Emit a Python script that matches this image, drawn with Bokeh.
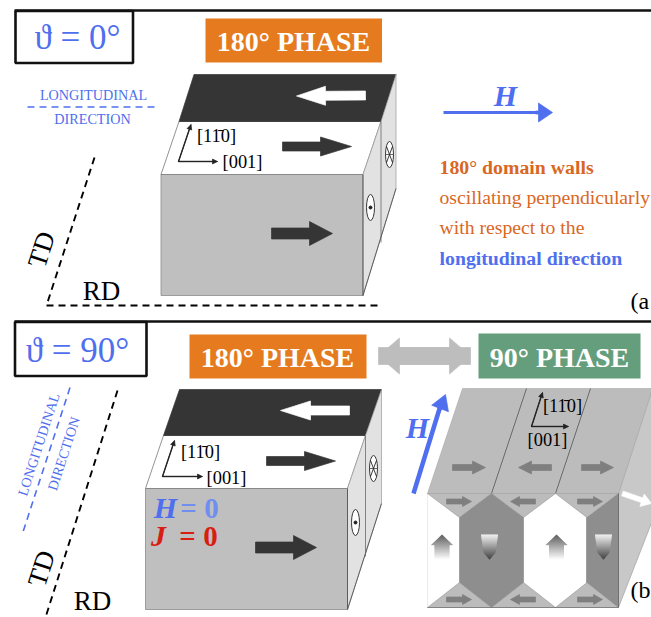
import math
from bokeh.plotting import figure
from bokeh.models import Range1d
from bokeh.core.properties import value
from bokeh.embed import file_html
from bokeh.resources import INLINE

BLUE = "#4f6fee"
ORANGE = "#e57a1e"
ORANGE_TXT = "#d9671f"
GREEN = "#659e7c"
DARK = "#353535"
FACE = "#bfbfbf"
SIDE = "#e2e2e2"
SERIF = "Liberation Serif"

TITLES = ["\u03d1 = 0\u00b0", "\u03d1 = 90\u00b0"]
PHASES = ["180\u00b0 PHASE", "180\u00b0 PHASE", "90\u00b0 PHASE"]
DIRECTIONS = ["[11\u03040]", "[001]"]
NOTE = ["180\u00b0 domain walls", "oscillating perpendicularly", "with respect to the", "longitudinal direction"]

p = figure(width=651, height=617, output_backend="svg", toolbar_location=None,
           x_range=Range1d(0, 651), y_range=Range1d(617, 0), min_border=0,
           outline_line_color=None, background_fill_color="white")
p.axis.visible = False
p.xaxis.visible = False
p.yaxis.visible = False
p.grid.visible = False


def poly(pts, fill, line=None, lw=0.7):
    p.patch([a for a, _ in pts], [b for _, b in pts], fill_color=fill,
            line_color=line if line else fill, line_width=lw)


def line(pts, color="black", lw=1.0, dash="solid"):
    p.line([a for a, _ in pts], [b for _, b in pts], line_color=color, line_width=lw, line_dash=dash)


def txt(x, y, s, size, color="black", align="center", bold=False, italic=False, angle=0.0):
    style = "bold italic" if bold and italic else "bold" if bold else "italic" if italic else "normal"
    p.text([x], [y], text=[s], text_font=value(SERIF), text_font_size=f"{size}px", text_color=color,
           text_align=align, text_baseline="middle", text_font_style=style, angle=math.radians(angle))


def arrow(tail, tip, body, head, head_len, fill):
    (x0, y0), (x1, y1) = tail, tip
    d = math.hypot(x1 - x0, y1 - y0)
    ux, uy = (x1 - x0) / d, (y1 - y0) / d
    nx, ny = -uy, ux
    bx, by = x1 - ux * head_len, y1 - uy * head_len
    poly([(x0 + nx * body, y0 + ny * body), (bx + nx * body, by + ny * body),
          (bx + nx * head, by + ny * head), (x1, y1), (bx - nx * head, by - ny * head),
          (bx - nx * body, by - ny * body), (x0 - nx * body, y0 - ny * body)], fill)


def thin_arrow(a, b):
    line([a, b], "#222222", 0.9)
    arrow(a, b, 0.3, 2.4, 5, "#222222")


def cube(ox, oy, w, h, dx1, dy1, dx2, dy2, side_bottom):
    poly([(ox, oy), (ox + w, oy), (ox + w, oy + h), (ox, oy + h)], FACE, "#8a8a8a", 0.8)
    poly([(ox, oy), (ox + dx1, oy - dy1), (ox + w + dx1, oy - dy1), (ox + w, oy)], "white", "#777777", 0.8)
    poly([(ox + dx1, oy - dy1), (ox + dx1 + dx2, oy - dy1 - dy2), (ox + w + dx1 + dx2, oy - dy1 - dy2),
          (ox + w + dx1, oy - dy1)], DARK)
    sx, sy = ox + w, oy
    poly([(sx, sy), (sx + dx1, sy - dy1), (sx + dx1 + dx2, sy - dy1 - dy2), (sx + dx1 + dx2, side_bottom),
          (sx, oy + h)], SIDE, "#999999", 0.7)
    line([(sx, sy), (sx, oy + h)], "#555555", 0.9)
    line([(sx + dx1, sy - dy1), (sx + dx1, oy + h - dy1)], "#777777", 0.9)
    line([(sx, oy + h), (sx + dx1 + dx2, side_bottom)], "#555555", 0.9)


def marks(dot_x, dot_y, cross_x, cross_y):
    for cx, cy in [(dot_x, dot_y), (cross_x, cross_y)]:
        p.ellipse([cx], [cy], width=8, height=26, fill_color="white", line_color="#222222", line_width=0.9)
    p.scatter([dot_x], [dot_y], size=3, color="#222222")
    line([(cross_x - 3, cross_y - 8), (cross_x + 3, cross_y + 8)], "#222222", 0.9)
    line([(cross_x + 3, cross_y - 8), (cross_x - 3, cross_y + 8)], "#222222", 0.9)
    line([(cross_x - 4, cross_y), (cross_x + 4, cross_y)], "#222222", 0.7)


def gradient_arrow(cx, top, bottom, up):
    n = int(bottom - top) * 2
    for i in range(n):
        y0 = top + (bottom - top) * i / n
        y1 = top + (bottom - top) * (i + 1) / n
        t = (i + 0.5) / n
        if up:
            hw = t * 11 / 0.42 if t < 0.42 else 7.5
            shade = int(70 + 185 * t)
        else:
            hw = 8.5 - 2.5 * t / 0.72 if t < 0.72 else 6 * (1 - t) / 0.28
            shade = int(255 - 200 * t)
        c = f"#{shade:02x}{shade:02x}{shade:02x}"
        p.quad(left=[cx - hw], right=[cx + hw], top=[y0], bottom=[y1 + 0.2], fill_color=c, line_color=None)


# ---------------- panel (a) ----------------
line([(14, 10), (651, 10)], "#111111", 2.6)
p.quad(left=[15], right=[132.5], top=[10.5], bottom=[62.5], fill_color="white", line_color="#111111", line_width=2.6)
txt(77, 37, TITLES[0], 35, BLUE)

p.quad(left=[205], right=[381.5], top=[18], bottom=[62], fill_color=ORANGE, line_color=None)
txt(293, 41, PHASES[0], 28, "white", bold=True)

txt(93, 94, "LONGITUDINAL", 14.2, BLUE)
line([(27, 106.5), (155, 106.5)], BLUE, 1.6, "7 5")
txt(92, 118, "DIRECTION", 14.2, BLUE)

cube(160.5, 174, 202, 121, 18, 53, 15, 47, 188)
arrow((365, 95), (296, 95.5), 4.5, 9.5, 29, "white")
arrow((282, 146), (351, 146), 4.5, 9.5, 31, DARK)
arrow((271, 233), (332, 233), 5.5, 12, 23, DARK)
thin_arrow((178, 161), (190.5, 124))
thin_arrow((178, 161), (217, 161))
txt(216, 135, DIRECTIONS[0], 18.4)
txt(242, 161, DIRECTIONS[1], 18.4)
marks(370, 207, 389, 154)

line([(94, 157), (46, 305)], "black", 1.9, "7 5")
line([(46, 305), (378, 305)], "black", 1.9, "7 5")
txt(41, 249, "TD", 27, angle=72)
txt(101, 290, "RD", 27)

line([(443, 112), (540, 112)], BLUE, 3)
arrow((535, 112), (552, 112), 1.5, 9.5, 14, BLUE)
txt(505, 95, "H", 30, BLUE, bold=True, italic=True)

txt(439, 166, NOTE[0], 19.8, ORANGE_TXT, "left", bold=True)
txt(439, 196, NOTE[1], 19.7, ORANGE_TXT, "left")
txt(439, 226, NOTE[2], 19.7, ORANGE_TXT, "left")
txt(439, 257, NOTE[3], 19.8, BLUE, "left", bold=True)
txt(630, 300, "(a", 24, align="left")

# ---------------- panel (b) ----------------
line([(14, 321), (651, 321)], "#111111", 2.6)
p.quad(left=[14.5], right=[146], top=[321.5], bottom=[375.5], fill_color="white", line_color="#111111", line_width=2.6)
txt(77, 350, TITLES[1], 35, BLUE)

p.quad(left=[189], right=[366], top=[334], bottom=[378], fill_color=ORANGE, line_color=None)
txt(277, 357, PHASES[1], 28, "white", bold=True)
p.quad(left=[478], right=[640], top=[333], bottom=[378], fill_color=GREEN, line_color=None)
txt(559, 357, PHASES[2], 28, "white", bold=True)
arrow((378, 355.5), (470, 355.5), 8.5, 18, 21, "#bdbdbd")
arrow((470, 355.5), (378, 355.5), 8.5, 18, 21, "#bdbdbd")

line([(69.5, 387), (22, 533)], BLUE, 1.6, "7 5")
txt(38, 444, "LONGITUDINAL", 14.2, BLUE, angle=72)
txt(63, 453, "DIRECTION", 14.2, BLUE, angle=72)
line([(117, 390), (45, 617)], "black", 1.9, "7 5")
txt(41, 568, "TD", 27, angle=72)
txt(92, 600, "RD", 27)

cube(145, 488, 202, 121, 18, 53, 16, 46, 503)
arrow((349, 410), (280, 410), 4.5, 9.5, 30, "white")
arrow((266, 460.5), (335, 460.5), 4.5, 9.5, 31, DARK)
arrow((255, 547), (316, 547), 5.5, 12, 23, DARK)
thin_arrow((162, 476), (174, 440))
thin_arrow((162, 476), (202, 476))
txt(200, 451, DIRECTIONS[0], 18.4)
txt(226, 477, DIRECTIONS[1], 18.4)
marks(355, 522, 373, 468)

txt(165, 507, "H", 30, BLUE, bold=True, italic=True)
txt(199, 507, "= 0", 29, "#6f8ef0", bold=True)
txt(158, 535, "J", 30, "#d81e10", bold=True, italic=True)
txt(198, 535, "= 0", 29, "#d81e10", bold=True)

# 90 degree domain block
TOP_GREY = "#bcbcbc"
poly([(618, 493), (652, 388), (652, 520), (618, 607)], "#c8c8c8", "#888888", 0.5)
poly([(427, 493), (462, 388), (652, 388), (618, 493)], TOP_GREY, "#aaaaaa", 0.6)
line([(491, 493), (526, 388)], "#555555", 0.8)
line([(555, 493), (590, 388)], "#555555", 0.8)
poly([(427, 493), (618, 493), (618, 607), (427, 607)], "white", "#dddddd", 0.6)
poly([(491, 493), (523, 517), (523, 582), (491, 607), (459, 582), (459, 517)], "#8e8e8e")
poly([(586, 517), (618, 493), (618, 607), (586, 582)], "#8e8e8e")
for lx, rx in [(427, 491), (491, 555), (555, 618)]:
    mx = (lx + rx) / 2
    poly([(lx, 493), (rx, 493), (mx, 517)], TOP_GREY, "#888888", 0.5)
    poly([(lx, 607), (rx, 607), (mx, 582)], TOP_GREY, "#888888", 0.5)
line([(618, 493), (618, 607)], "#666666", 0.8)
line([(427, 607), (618, 607)], "#777777", 0.8)

ARROW_GREY = "#7f7f7f"
arrow((452, 467), (485, 467), 3, 6.5, 13, ARROW_GREY)
arrow((551, 467), (518, 467), 3, 6.5, 13, ARROW_GREY)
arrow((581, 467), (613, 467), 3, 6.5, 13, ARROW_GREY)
for y in (501, 599):
    arrow((446, y), (471, y), 2.5, 5, 9, ARROW_GREY)
    arrow((535, y), (510, y), 2.5, 5, 9, ARROW_GREY)
    arrow((577, y), (602, y), 2.5, 5, 9, ARROW_GREY)
gradient_arrow(441.5, 534, 559, True)
gradient_arrow(556, 534, 559, True)
gradient_arrow(489, 534, 559, False)
gradient_arrow(603, 534, 559, False)

arrow((622, 493), (651, 503), 2.5, 6.5, 10, "white")
line([(413, 493), (440, 405)], BLUE, 4.5)
arrow((438, 412), (445, 394), 1.5, 9, 15, BLUE)
txt(417, 427, "H", 30, BLUE, bold=True, italic=True)

thin_arrow((531, 426), (542, 392))
thin_arrow((531, 426), (568, 426))
txt(562, 405, DIRECTIONS[0], 18.4)
txt(547, 439, DIRECTIONS[1], 18.4)
txt(630, 589, "(b", 24, align="left")

open("out.html", "w").write(file_html(p, INLINE))
